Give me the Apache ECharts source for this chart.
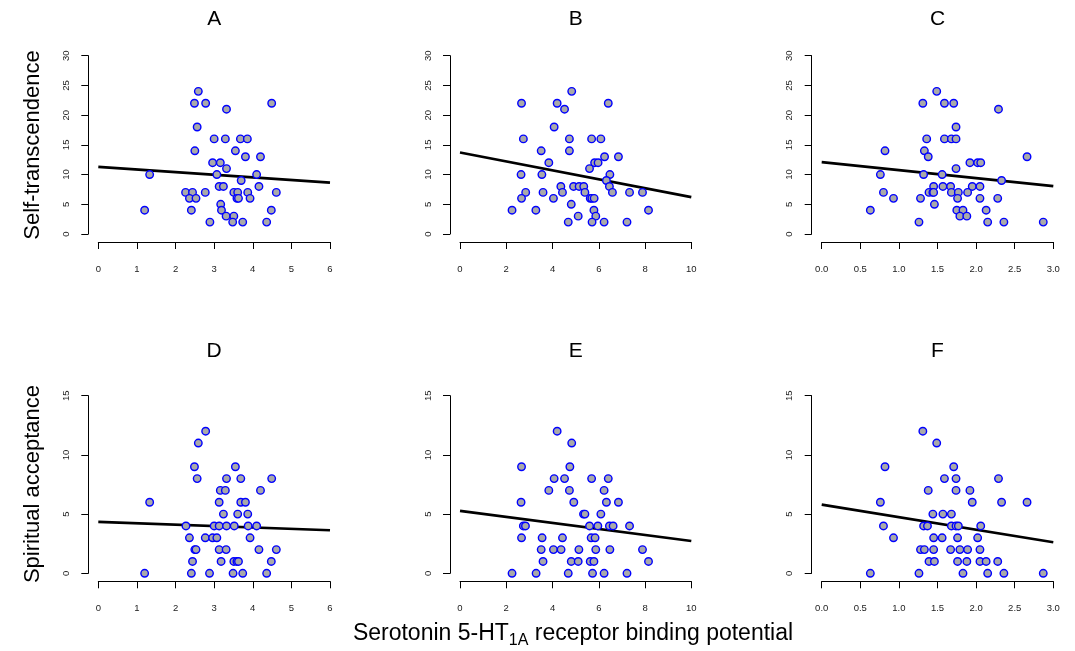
<!DOCTYPE html>
<html>
<head>
<meta charset="utf-8">
<script src="https://cdn.jsdelivr.net/npm/echarts@6/dist/echarts.min.js"></script>
<style>html,body{margin:0;padding:0;background:#fff}#c{width:1075px;height:651px}</style>
</head>
<body>
<div id="c"></div>
<script>
// ---- data ----
const panelTitles = ['A', 'B', 'C', 'D', 'E', 'F'];
const yNames = ['Self-transcendence', 'Spiritual acceptance'];
const xTitleMain = 'Serotonin 5-HT';
const xTitleSub = '1A';
const xTitleRest = ' receptor binding potential';

const xA = [2.59,2.49,2.78,4.49,3.32,2.56,3.00,3.29,3.68,3.86,2.50,3.55,3.81,4.20,2.96,3.16,3.32,1.33,3.07,4.10,3.70,3.13,3.24,4.16,2.26,2.44,2.77,3.51,3.61,3.87,4.61,2.36,2.53,3.59,3.63,3.93,3.17,1.20,2.41,3.19,4.48,3.31,3.51,2.89,3.48,3.74,4.36];
const yA = [24,22,22,22,21,18,16,16,16,16,14,14,13,13,12,12,11,10,10,10,9,8,8,8,7,7,7,7,7,7,7,6,6,6,6,6,5,4,4,4,4,3,3,2,2,2,2];
const lineA = [[0, 11.3], [6, 8.65]];

const xB = [4.83,2.66,4.20,6.41,4.52,4.07,2.74,4.73,5.69,6.09,3.51,4.73,6.25,6.85,3.84,5.82,5.97,5.60,2.64,3.54,6.48,6.33,4.36,4.91,5.15,5.35,6.46,2.84,3.59,4.43,5.40,6.59,7.33,7.89,2.66,4.04,5.63,5.70,5.80,4.81,2.25,3.28,5.79,8.15,5.11,5.87,4.68,5.71,6.23,7.22];
const yB = [24,22,22,22,21,18,16,16,16,16,14,14,13,13,12,12,12,11,10,10,10,9,8,8,8,8,8,7,7,7,7,7,7,7,6,6,6,6,6,5,4,4,4,4,3,3,2,2,2,2];
const lineB = [[0, 13.7], [10, 6.2]];

const xC = [1.49,1.31,1.59,1.71,2.29,1.74,1.36,1.59,1.68,1.74,0.82,1.33,1.38,2.66,1.92,2.02,2.06,1.74,0.76,1.32,1.56,2.33,1.45,1.57,1.67,1.95,2.05,0.80,1.39,1.44,1.45,1.68,1.77,1.89,0.93,1.28,1.76,2.05,2.28,1.46,0.63,1.75,1.83,2.13,1.79,1.88,1.26,2.15,2.36,2.87];
const yC = [24,22,22,22,21,18,16,16,16,16,14,14,13,13,12,12,12,11,10,10,10,9,8,8,8,8,8,7,7,7,7,7,7,7,6,6,6,6,6,5,4,4,4,4,3,3,2,2,2,2];
const lineC = [[0, 12.1], [3, 8.06]];

const xD = [2.78,2.59,2.49,3.55,2.56,3.32,3.69,4.49,3.16,3.29,4.20,1.33,3.13,3.69,3.81,3.24,3.61,3.87,2.27,3.00,3.13,3.32,3.52,3.88,4.10,2.36,2.77,2.96,3.07,3.93,2.50,2.53,3.13,3.31,4.16,4.61,2.44,3.18,3.51,3.59,3.63,4.48,1.20,2.41,2.88,3.49,3.74,4.36];
const yD = [12,11,9,9,8,8,8,8,7,7,7,6,6,6,6,5,5,5,4,4,4,4,4,4,4,3,3,3,3,3,2,2,2,2,2,2,1,1,1,1,1,1,0,0,0,0,0,0];
const lineD = [[0, 4.34], [6, 3.63]];

const xE = [4.20,4.83,2.66,4.75,4.07,4.52,5.69,6.41,3.84,4.73,6.23,2.64,4.92,6.33,6.85,5.34,5.40,6.09,2.74,2.83,5.60,5.96,6.46,6.62,7.33,2.66,3.55,4.43,5.67,5.84,3.51,4.04,4.37,5.14,5.87,6.48,7.89,3.59,4.81,5.11,5.63,5.79,8.15,2.25,3.29,4.68,5.73,6.23,7.22];
const yE = [12,11,9,9,8,8,8,8,7,7,7,6,6,6,6,5,5,5,4,4,4,4,4,4,4,3,3,3,3,3,2,2,2,2,2,2,2,1,1,1,1,1,1,0,0,0,0,0,0];
const lineE = [[0, 5.27], [10, 2.73]];

const xF = [1.31,1.49,0.82,1.71,1.59,1.74,2.29,1.38,1.74,1.92,0.76,1.95,2.33,2.66,1.44,1.57,1.68,0.80,1.32,1.37,1.68,1.74,1.77,2.06,0.93,1.45,1.56,1.76,2.02,1.28,1.33,1.45,1.67,1.79,1.89,2.05,1.39,1.46,1.76,1.88,2.05,2.13,2.28,0.63,1.26,1.83,2.15,2.36,2.87];
const yF = [12,11,9,9,8,8,8,7,7,7,6,6,6,6,5,5,5,4,4,4,4,4,4,4,3,3,3,3,3,2,2,2,2,2,2,2,1,1,1,1,1,1,1,0,0,0,0,0,0];
const lineF = [[0, 5.80], [3, 2.62]];

const xScales = [[0, 6, 1, 0], [0, 10, 2, 0], [0, 3, 0.5, 1]]; // min, max, interval, decimals
const yScales = [[0, 30, 5], [0, 15, 5]];

// ---- layout / style ----
const FONT = 'Liberation Sans, Arial, Helvetica, sans-serif';
const colLeft = [98.3, 460, 821.7];
const colWidth = [231.7, 231.3, 231.6];
const rowTop = [55.7, 395.7];
const rowHeight = [178.3, 177.6];

const xs = [xA, xB, xC, xD, xE, xF];
const ys = [yA, yB, yC, yD, yE, yF];
const lines = [lineA, lineB, lineC, lineD, lineE, lineF];

const grid = [], xAxis = [], yAxis = [], series = [], title = [];
for (let i = 0; i < 6; i++) {
  const r = Math.floor(i / 3), c = i % 3;
  grid.push({left: colLeft[c], top: rowTop[r], width: colWidth[c], height: rowHeight[r], containLabel: false});
  const xs_ = xScales[c];
  xAxis.push({
    gridIndex: i, type: 'value', min: xs_[0], max: xs_[1], interval: xs_[2], offset: 8,
    axisLine: {show: true, onZero: false, lineStyle: {color: '#000', width: 1}},
    axisTick: {show: true, length: 7, lineStyle: {color: '#000', width: 1}},
    axisLabel: {fontSize: 9.5, color: '#222', fontFamily: FONT, margin: 22,
      formatter: v => v.toFixed(xs_[3])},
    splitLine: {show: false}
  });
  const ys_ = yScales[r];
  yAxis.push({
    gridIndex: i, type: 'value', min: ys_[0], max: ys_[1], interval: ys_[2], offset: 10,
    axisLine: {show: true, onZero: false, lineStyle: {color: '#000', width: 1}},
    axisTick: {show: true, length: 7, lineStyle: {color: '#000', width: 1}},
    axisLabel: {fontSize: 9.5, color: '#222', fontFamily: FONT, margin: 17, rotate: 90},
    splitLine: {show: false}
  });
  series.push({
    type: 'line', xAxisIndex: i, yAxisIndex: i, data: lines[i], symbol: 'none',
    lineStyle: {color: '#000', width: 2.6}, silent: true, z: 2, animation: false
  });
  series.push({
    type: 'scatter', xAxisIndex: i, yAxisIndex: i,
    data: xs[i].map((x, k) => [x, ys[i][k]]),
    symbol: 'circle', symbolSize: 7.5,
    itemStyle: {color: '#a9a9a9', borderColor: '#0000ff', borderWidth: 1.4, opacity: 1},
    z: 3, animation: false
  });
  title.push({
    text: panelTitles[i], left: colLeft[c] + colWidth[c] / 2, top: r === 0 ? 9 : 341,
    textAlign: 'center', padding: 0,
    textStyle: {fontSize: 21, fontWeight: 'normal', color: '#000', fontFamily: FONT}
  });
}
title.push({
  text: '{a|' + xTitleMain + '}{s|' + xTitleSub + '}{a|' + xTitleRest + '}',
  left: 573, top: 619, textAlign: 'center', padding: 0,
  textStyle: {
    fontFamily: FONT, fontWeight: 'normal',
    rich: {
      a: {fontSize: 23, lineHeight: 30, color: '#000', fontFamily: FONT, fontWeight: 'normal'},
      s: {fontSize: 16, lineHeight: 16, verticalAlign: 'bottom', color: '#000', fontFamily: FONT, fontWeight: 'normal'}
    }
  }
});

const graphic = [
  {type: 'text', x: 33, y: 145, rotation: Math.PI / 2,
    style: {text: yNames[0], font: '22px ' + FONT, fill: '#000', align: 'center', verticalAlign: 'middle', textAlign: 'center', textVerticalAlign: 'middle'}},
  {type: 'text', x: 33, y: 484, rotation: Math.PI / 2,
    style: {text: yNames[1], font: '22px ' + FONT, fill: '#000', align: 'center', verticalAlign: 'middle', textAlign: 'center', textVerticalAlign: 'middle'}}
];

const chart = echarts.init(document.getElementById('c'), null, {renderer: 'canvas'});
chart.setOption({
  backgroundColor: '#fff', animation: false,
  title, grid, xAxis, yAxis, series, graphic
});
</script>
</body>
</html>
